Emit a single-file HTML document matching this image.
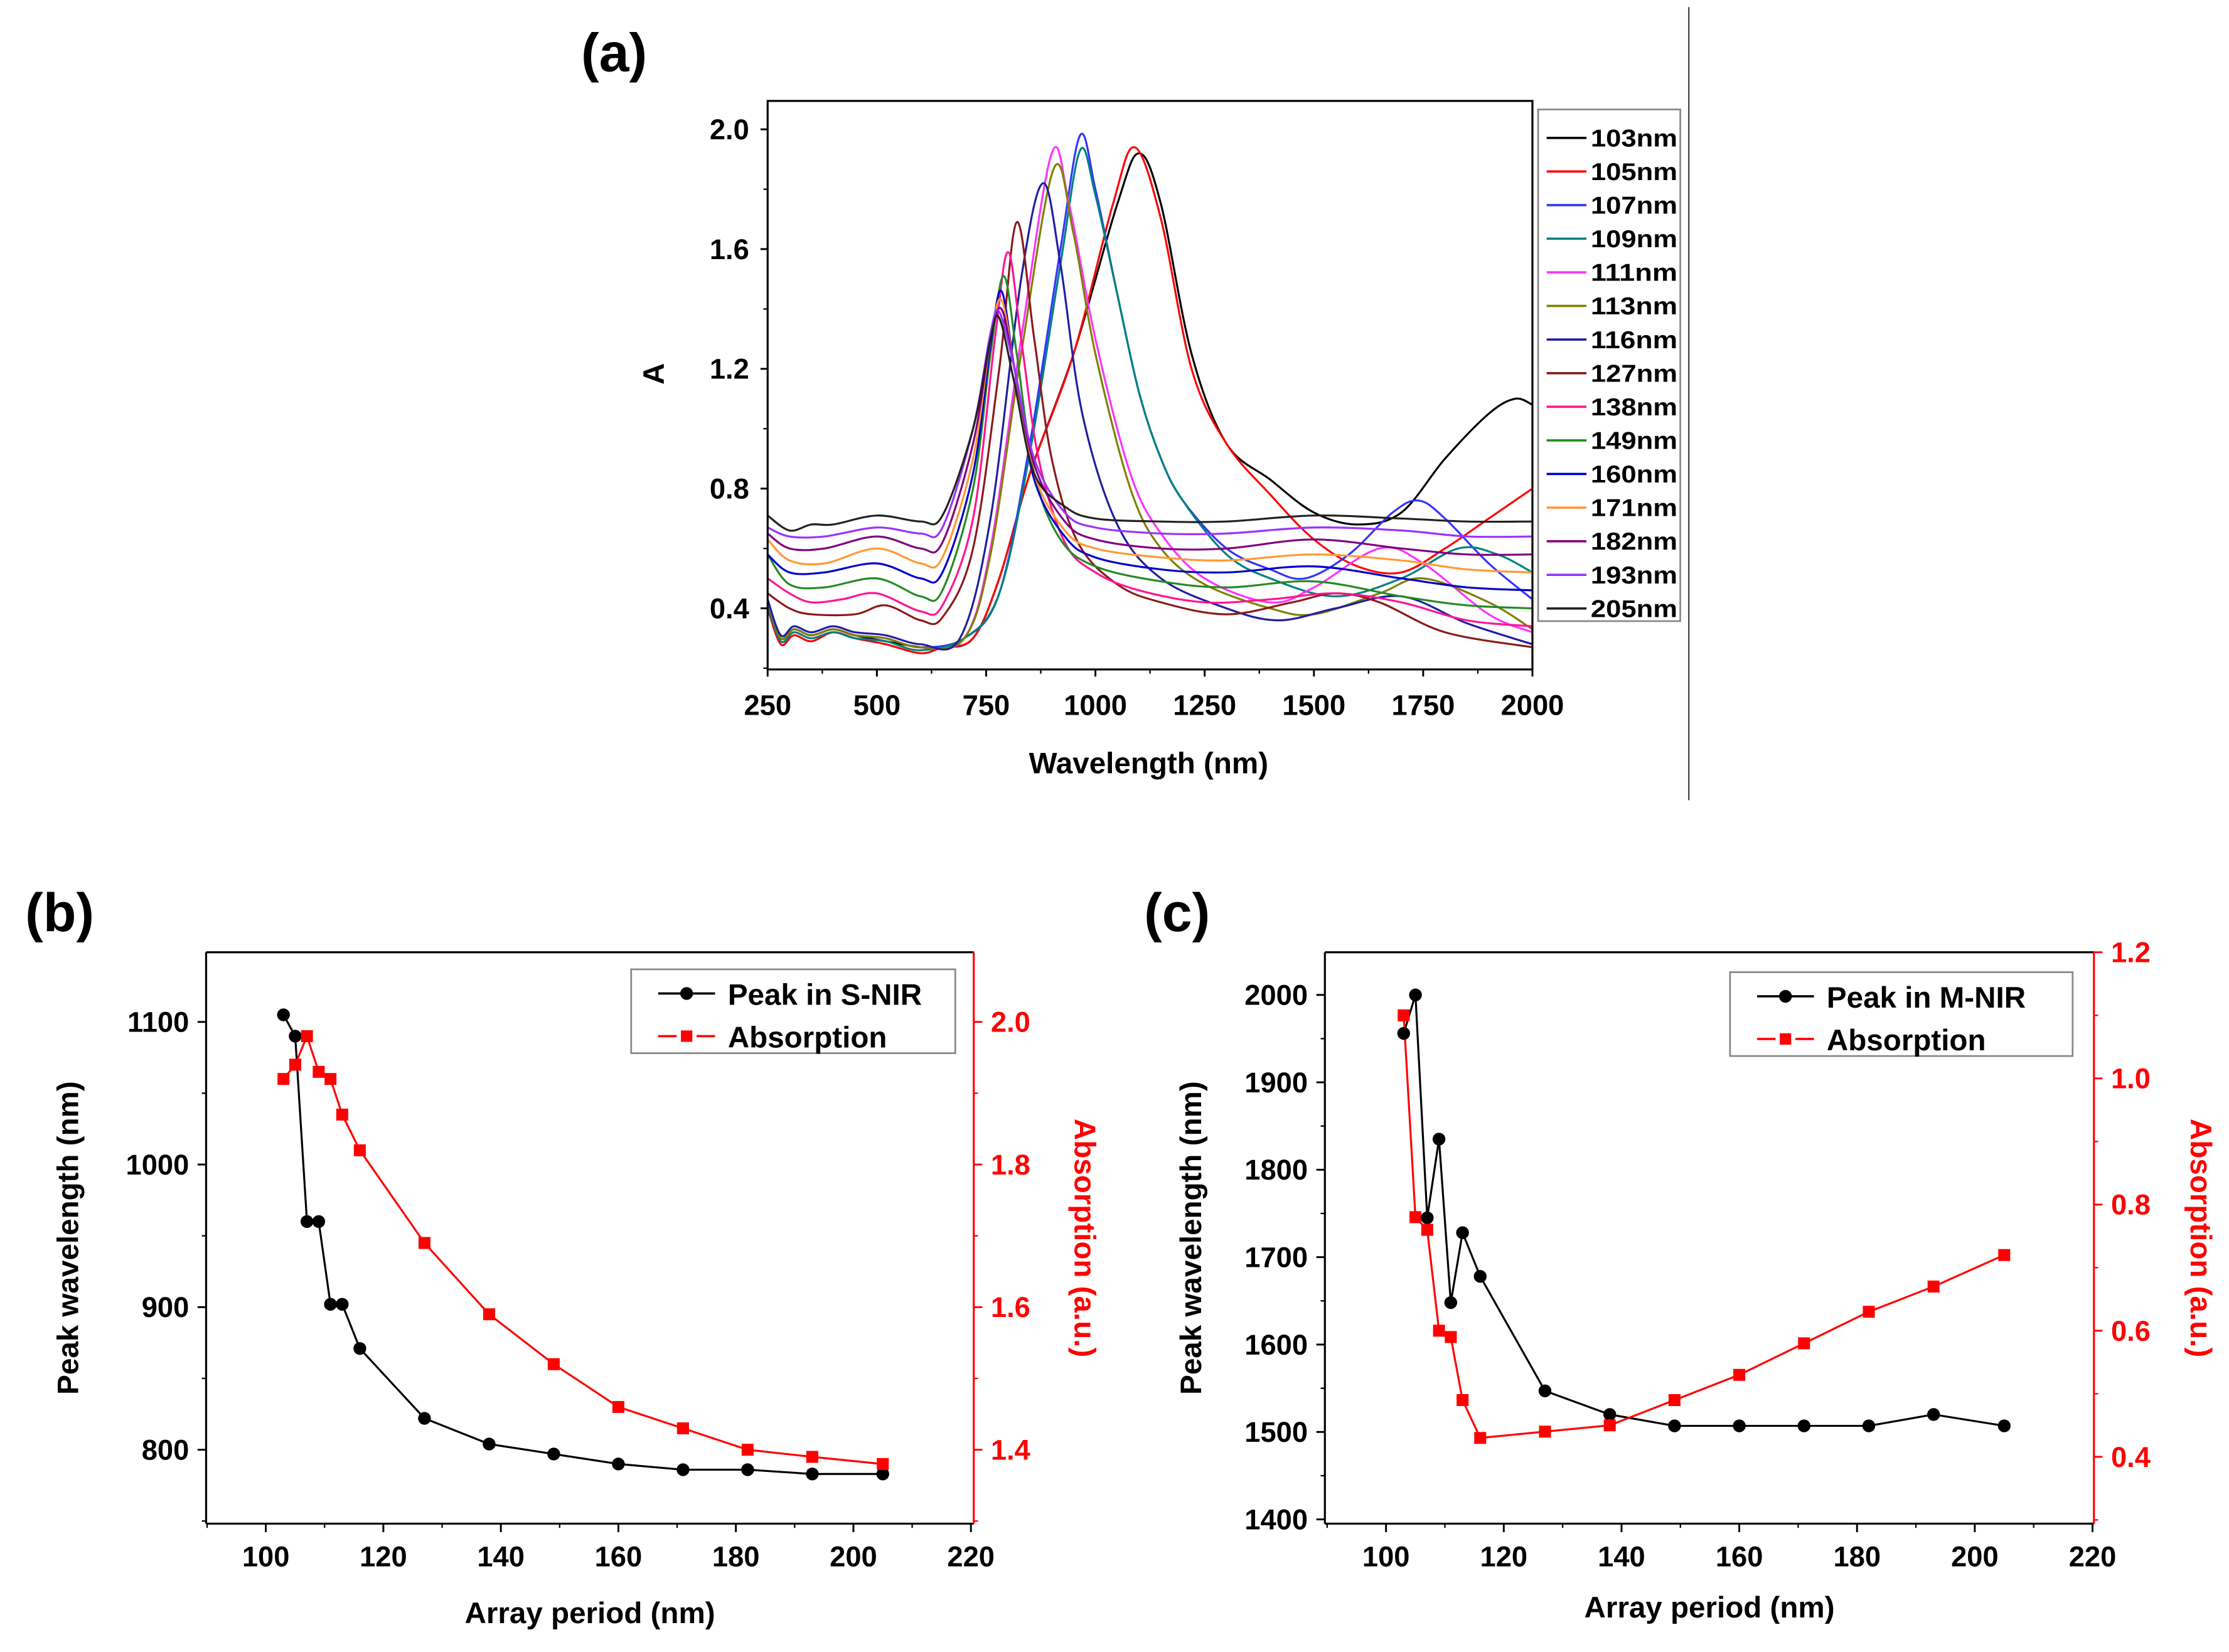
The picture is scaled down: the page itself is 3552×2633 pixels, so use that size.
<!DOCTYPE html>
<html><head><meta charset="utf-8"><style>
html,body{margin:0;padding:0;background:#fff}
svg{display:block}
text{font-family:"Liberation Sans",sans-serif;font-weight:bold}
</style></head><body>
<svg id="fig" width="3552" height="2633" viewBox="0 0 1568 1162.3" xmlns="http://www.w3.org/2000/svg">
<rect width="1568" height="1163" fill="#fff"/>
<line x1="1188" y1="5" x2="1188" y2="563" stroke="#444" stroke-width="1"/>
<g id="pa"></g>
<g id="pb"></g>
<g id="pc"></g>
</svg>
<script>
const NS="http://www.w3.org/2000/svg";
// ---------- Panel (a) data ----------
const specLabels=["103nm","105nm","107nm","109nm","111nm","113nm","116nm","127nm","138nm","149nm","160nm","171nm","182nm","193nm","205nm"];
const specColors=["#000000","#ff0000","#3333ff","#008080","#ff33ff","#808000","#1f1f9f","#8b1a1a","#ff1493","#228b22","#0000cd","#ff9933","#800080","#9933ff","#222222"];
const s103=[[250,0.42],[280,0.3],[310,0.33],[350,0.31],[400,0.33],[450,0.31],[520,0.29],[600,0.27],[650,0.27],[720,0.3],[780,0.5],[850,0.85],[950,1.25],[1050,1.75],[1100,1.92],[1150,1.75],[1220,1.25],[1300,0.95],[1400,0.83],[1500,0.72],[1600,0.68],[1700,0.72],[1800,0.9],[1900,1.05],[1960,1.1],[2000,1.08]];
const s105=[[250,0.4],[280,0.28],[310,0.31],[350,0.29],[400,0.32],[450,0.3],[520,0.28],[600,0.25],[650,0.27],[720,0.3],[780,0.5],[850,0.85],[950,1.25],[1040,1.75],[1090,1.94],[1150,1.7],[1220,1.2],[1300,0.95],[1400,0.78],[1500,0.63],[1600,0.54],[1700,0.52],[1800,0.6],[1900,0.7],[2000,0.8]];
const s107=[[250,0.4],[280,0.3],[310,0.33],[350,0.31],[400,0.33],[450,0.31],[520,0.3],[600,0.27],[700,0.3],[780,0.45],[850,0.95],[920,1.6],[965,1.98],[1000,1.8],[1050,1.45],[1100,1.12],[1150,0.9],[1200,0.76],[1300,0.6],[1400,0.53],[1480,0.5],[1580,0.58],[1680,0.72],[1740,0.76],[1800,0.7],[1900,0.55],[2000,0.43]];
const s109=[[250,0.41],[280,0.29],[310,0.32],[350,0.3],[400,0.32],[450,0.3],[520,0.29],[600,0.26],[700,0.3],[780,0.45],[850,0.92],[920,1.55],[965,1.93],[1000,1.78],[1050,1.45],[1100,1.12],[1150,0.9],[1200,0.76],[1300,0.58],[1400,0.5],[1550,0.44],[1700,0.5],[1830,0.6],[1920,0.58],[2000,0.52]];
const s111=[[250,0.42],[280,0.3],[310,0.33],[350,0.31],[400,0.33],[450,0.31],[520,0.3],[600,0.27],[700,0.3],[760,0.6],[830,1.3],[900,1.92],[940,1.75],[1000,1.3],[1080,0.85],[1150,0.65],[1250,0.5],[1400,0.42],[1500,0.47],[1650,0.6],[1750,0.55],[1900,0.38],[2000,0.32]];
const s113=[[250,0.42],[280,0.3],[310,0.33],[350,0.31],[400,0.33],[450,0.31],[520,0.3],[600,0.27],[700,0.3],[760,0.58],[830,1.25],[905,1.87],[950,1.65],[1000,1.25],[1080,0.8],[1150,0.6],[1250,0.48],[1400,0.4],[1500,0.38],[1650,0.45],[1750,0.5],[1900,0.42],[2000,0.33]];
const s116=[[250,0.43],[280,0.31],[310,0.34],[350,0.32],[400,0.34],[450,0.32],[520,0.31],[600,0.28],[690,0.3],[760,0.7],[830,1.5],[880,1.82],[920,1.55],[970,1.05],[1050,0.68],[1150,0.5],[1300,0.4],[1420,0.36],[1550,0.4],[1700,0.44],[1850,0.35],[2000,0.28]];
const s127=[[250,0.45],[300,0.4],[350,0.38],[450,0.38],[520,0.41],[600,0.36],[650,0.37],[720,0.6],[780,1.2],[820,1.69],[860,1.3],[900,0.9],[960,0.62],[1050,0.48],[1150,0.42],[1300,0.38],[1450,0.42],[1550,0.45],[1650,0.42],[1800,0.32],[2000,0.27]];
const s138=[[250,0.5],[300,0.45],[350,0.42],[420,0.43],[500,0.45],[600,0.39],[650,0.41],[720,0.7],[770,1.3],[800,1.59],[830,1.3],[870,0.9],[930,0.62],[1000,0.52],[1100,0.46],[1250,0.42],[1400,0.43],[1550,0.45],[1700,0.42],[1850,0.36],[2000,0.34]];
const s149=[[250,0.58],[300,0.48],[380,0.47],[500,0.5],[600,0.44],[650,0.46],[720,0.8],[760,1.25],[790,1.51],[820,1.25],[860,0.85],[920,0.63],[1000,0.54],[1150,0.49],[1300,0.47],[1500,0.49],[1700,0.44],[1850,0.41],[2000,0.4]];
const s160=[[250,0.58],[300,0.52],[380,0.52],[500,0.55],[600,0.5],[650,0.52],[720,0.85],[760,1.28],[785,1.46],[815,1.2],[860,0.83],[930,0.64],[1000,0.57],[1150,0.53],[1300,0.52],[1500,0.54],[1700,0.5],[1850,0.47],[2000,0.46]];
const s171=[[250,0.63],[300,0.56],[380,0.55],[500,0.6],[600,0.55],[650,0.57],[720,0.9],[760,1.3],[785,1.43],[815,1.2],[860,0.85],[930,0.66],[1000,0.6],[1150,0.57],[1300,0.56],[1500,0.58],[1700,0.56],[1850,0.53],[2000,0.52]];
const s182=[[250,0.65],[300,0.6],[380,0.6],[500,0.64],[600,0.6],[650,0.62],[720,0.95],[760,1.3],[785,1.4],[815,1.2],[860,0.88],[930,0.69],[1000,0.63],[1150,0.6],[1300,0.6],[1500,0.63],[1700,0.6],[1850,0.58],[2000,0.58]];
const s193=[[250,0.67],[300,0.64],[380,0.64],[500,0.67],[600,0.65],[650,0.67],[720,1.0],[760,1.32],[780,1.39],[815,1.2],[860,0.9],[930,0.72],[1000,0.67],[1150,0.65],[1300,0.65],[1500,0.67],[1700,0.66],[1850,0.64],[2000,0.64]];
const s205=[[250,0.71],[300,0.66],[350,0.68],[400,0.68],[500,0.71],[600,0.69],[650,0.71],[720,1.0],[760,1.3],[780,1.37],[815,1.15],[860,0.85],[930,0.74],[1000,0.7],[1150,0.69],[1300,0.69],[1500,0.71],[1700,0.7],[1850,0.69],[2000,0.69]];
const spectra=[s103,s105,s107,s109,s111,s113,s116,s127,s138,s149,s160,s171,s182,s193,s205];
const aXTicks=[250,500,750,1000,1250,1500,1750,2000];
const aYTicks=[0.4,0.8,1.2,1.6,2.0];
// ---------- Panel (b)/(c) data ----------
const periods=[103,105,107,109,111,113,116,127,138,149,160,171,182,193,205];
const peakS=[1105,1090,960,960,902,902,871,822,804,797,790,786,786,783,783];
const absS=[1.92,1.94,1.98,1.93,1.92,1.87,1.82,1.69,1.59,1.52,1.46,1.43,1.40,1.39,1.38];
const peakM=[1956,2000,1745,1835,1648,1728,1678,1547,1520,1507,1507,1507,1507,1520,1507];
const absM=[1.10,0.78,0.76,0.60,0.59,0.49,0.43,0.44,0.45,0.49,0.53,0.58,0.63,0.67,0.72];
const periodTicks=[100,120,140,160,180,200,220];
const bLeftTicks=[800,900,1000,1100];
const bRightTicks=[1.4,1.6,1.8,2.0];
const cLeftTicks=[1400,1500,1600,1700,1800,1900,2000];
const cRightTicks=[0.4,0.6,0.8,1.0,1.2];

function el(tag,attrs,parent,txt){const e=document.createElementNS(NS,tag);for(const k in attrs)e.setAttribute(k,attrs[k]);if(txt!==undefined)e.textContent=txt;parent.appendChild(e);return e;}
function smoothPath(pts){let d="M"+pts[0][0].toFixed(2)+","+pts[0][1].toFixed(2);
 for(let i=0;i<pts.length-1;i++){const p0=pts[Math.max(0,i-1)],p1=pts[i],p2=pts[i+1],p3=pts[Math.min(pts.length-1,i+2)];
  const c1=[p1[0]+(p2[0]-p0[0])/6,p1[1]+(p2[1]-p0[1])/6],c2=[p2[0]-(p3[0]-p1[0])/6,p2[1]-(p3[1]-p1[1])/6];
  d+=" C"+c1[0].toFixed(2)+","+c1[1].toFixed(2)+" "+c2[0].toFixed(2)+","+c2[1].toFixed(2)+" "+p2[0].toFixed(2)+","+p2[1].toFixed(2);}
 return d;}

// ---------- Panel (a) ----------
(function(){
 const g=document.getElementById('pa');
 const L=540,R=1078,T=71,B=471;
 const xs=v=>L+(v-250)/(2000-250)*(R-L);
 const ys=v=>428-(v-0.4)/1.6*(428-91);
 const clip=el('clipPath',{id:'clipA'},g);el('rect',{x:L,y:T,width:R-L,height:B-T},clip);
 const lines=el('g',{'clip-path':'url(#clipA)'},g);
 spectra.forEach((s,i)=>{
  const p=el('path',{d:smoothPath(s.map(q=>[xs(q[0]),ys(q[1])])),fill:'none',stroke:specColors[i],'stroke-width':1.4},lines);
  
  
 });
 el('rect',{x:L,y:T,width:R-L,height:B-T,fill:'none',stroke:'#000','stroke-width':1.4,},g);
 aXTicks.forEach(v=>{el('line',{x1:xs(v),y1:B,x2:xs(v),y2:B+5,stroke:'#000','stroke-width':1.3},g);
  const t=el('text',{x:xs(v),y:B+32,'font-size':20,'text-anchor':'middle'},g,String(v));
  });
 for(let v=375;v<2000;v+=250)el('line',{x1:xs(v),y1:B,x2:xs(v),y2:B+3,stroke:'#000','stroke-width':1},g);
 aYTicks.forEach(v=>{el('line',{x1:L-5,y1:ys(v),x2:L,y2:ys(v),stroke:'#000','stroke-width':1.3},g);
  const t=el('text',{x:L-13,y:ys(v)+7,'font-size':20,'text-anchor':'end'},g,v.toFixed(1));
  });
 [0.2,0.6,1.0,1.4,1.8].forEach(v=>el('line',{x1:L-3,y1:ys(v),x2:L,y2:ys(v),stroke:'#000','stroke-width':1},g));
 el('text',{x:808,y:544,'font-size':21,'text-anchor':'middle',},g,'Wavelength (nm)');
 el('text',{x:467,y:263,'font-size':21,'text-anchor':'middle',transform:'rotate(-90 467 263)',},g,'A');
 el('text',{x:432,y:50,'font-size':38,'text-anchor':'middle',},g,'(a)');
 const lg=el('g',{},g);
 el('rect',{x:1082,y:77,width:100,height:360,fill:'#fff',stroke:'#888','stroke-width':1.2},lg);
 specLabels.forEach((lab,i)=>{const y=97+i*23.65;
  el('line',{x1:1088,y1:y,x2:1116,y2:y,stroke:specColors[i],'stroke-width':1.6},lg);
  const t=el('text',{x:1119,y:y+6,'font-size':17,textLength:61,lengthAdjust:'spacingAndGlyphs'},lg,lab);
  });
})();

// ---------- Panels (b),(c) ----------
function dual(gid,cfg){
 const g=document.getElementById(gid);
 const {L,R,T,B}=cfg;
 const xs=v=>cfg.x0px+(v-100)/120*(cfg.x1px-cfg.x0px);
 const yl=v=>cfg.ylA[1]+(v-cfg.ylA[0])/(cfg.ylB[0]-cfg.ylA[0])*(cfg.ylB[1]-cfg.ylA[1]);
 const yr=v=>cfg.yrA[1]+(v-cfg.yrA[0])/(cfg.yrB[0]-cfg.yrA[0])*(cfg.yrB[1]-cfg.yrA[1]);
 el('line',{x1:L,y1:T,x2:R,y2:T,stroke:'#000','stroke-width':1.4},g);
 el('line',{x1:L,y1:B,x2:R,y2:B,stroke:'#000','stroke-width':1.4},g);
 el('line',{x1:L,y1:T,x2:L,y2:B,stroke:'#000','stroke-width':1.4,},g);
 el('line',{x1:R,y1:T,x2:R,y2:B,stroke:'#f00','stroke-width':1.4,},g);
 periodTicks.forEach(v=>{el('line',{x1:xs(v),y1:B,x2:xs(v),y2:B+6,stroke:'#000','stroke-width':1.3},g);
  const t=el('text',{x:xs(v),y:B+30,'font-size':20,'text-anchor':'middle'},g,String(v));
  });
 for(let v=90;v<=210;v+=20)el('line',{x1:xs(v),y1:B,x2:xs(v),y2:B+3,stroke:'#000','stroke-width':1},g);
 cfg.leftTicks.forEach(v=>{el('line',{x1:L-6,y1:yl(v),x2:L,y2:yl(v),stroke:'#000','stroke-width':1.3},g);
  const t=el('text',{x:L-12,y:yl(v)+7,'font-size':20,'text-anchor':'end'},g,String(v));
  });
 cfg.leftMinor.forEach(v=>el('line',{x1:L-3,y1:yl(v),x2:L,y2:yl(v),stroke:'#000','stroke-width':1},g));
 cfg.rightTicks.forEach(v=>{el('line',{x1:R,y1:yr(v),x2:R+6,y2:yr(v),stroke:'#f00','stroke-width':1.3},g);
  const t=el('text',{x:R+12,y:yr(v)+7,'font-size':20,fill:'#f00'},g,v.toFixed(1));
  });
 cfg.rightMinor.forEach(v=>el('line',{x1:R,y1:yr(v),x2:R+3,y2:yr(v),stroke:'#f00','stroke-width':1},g));
 const pk=el('polyline',{points:periods.map((p,i)=>xs(p)+','+yl(cfg.peak[i])).join(' '),fill:'none',stroke:'#000','stroke-width':1.4},g);
 
 const ab=el('polyline',{points:periods.map((p,i)=>xs(p)+','+yr(cfg.abs[i])).join(' '),fill:'none',stroke:'#f00','stroke-width':1.4},g);
 
 periods.forEach((p,i)=>{
  const c=el('circle',{cx:xs(p),cy:yl(cfg.peak[i]),r:4.5,fill:'#000'},g);
  
  const s=el('rect',{x:xs(p)-4.2,y:yr(cfg.abs[i])-4.2,width:8.4,height:8.4,fill:'#f00'},g);
  
 });
 const lg=el('g',{},g);
 const [lx,ly,lw,lh]=cfg.leg;
 el('rect',{x:lx,y:ly,width:lw,height:lh,fill:'#fff',stroke:'#888','stroke-width':1.2},lg);
 el('line',{x1:lx+19,y1:ly+17,x2:lx+59,y2:ly+17,stroke:'#000','stroke-width':1.6},lg);
 el('circle',{cx:lx+39,cy:ly+17,r:4.5,fill:'#000'},lg);
 el('text',{x:lx+68,y:ly+25,'font-size':21},lg,cfg.peakName);
 el('line',{x1:lx+19,y1:ly+47,x2:lx+32,y2:ly+47,stroke:'#f00','stroke-width':1.6},lg);
 el('line',{x1:lx+46,y1:ly+47,x2:lx+59,y2:ly+47,stroke:'#f00','stroke-width':1.6},lg);
 el('rect',{x:lx+35,y:ly+43,width:8,height:8,fill:'#f00'},lg);
 el('text',{x:lx+68,y:ly+55,'font-size':21},lg,'Absorption');
 el('text',{x:(L+R)/2,y:cfg.xtY,'font-size':21,'text-anchor':'middle',},g,'Array period (nm)');
 el('text',{x:cfg.ylX,y:(T+B)/2,'font-size':21,'text-anchor':'middle',transform:`rotate(-90 ${cfg.ylX} ${(T+B)/2})`,},g,'Peak wavelength (nm)');
 el('text',{x:cfg.yrX,y:(T+B)/2,'font-size':21,fill:'#f00','text-anchor':'middle',transform:`rotate(90 ${cfg.yrX} ${(T+B)/2})`,},g,'Absorption (a.u.)');
 el('text',{x:cfg.lab[0],y:cfg.lab[1],'font-size':38,'text-anchor':'middle',},g,cfg.labText);
}
dual('pb',{L:145,R:685,T:670,B:1072,x0px:187,x1px:683,ylA:[800,1020],ylB:[1100,719],yrA:[1.4,1020],yrB:[2.0,719],
 leftTicks:bLeftTicks,leftMinor:[750,850,950,1050],rightTicks:bRightTicks,rightMinor:[1.3,1.5,1.7,1.9],
 peak:peakS,abs:absS,peakName:'Peak in S-NIR',leg:[444,682,228,59],xtY:1142,ylX:55,yrX:756,lab:[42,655],labText:'(b)'});
dual('pc',{L:932,R:1473,T:670,B:1072,x0px:975,x1px:1472,ylA:[1400,1069],ylB:[2000,700],yrA:[0.4,1025],yrB:[1.2,670],
 leftTicks:cLeftTicks,leftMinor:[1450,1550,1650,1750,1850,1950],rightTicks:cRightTicks,rightMinor:[0.3,0.5,0.7,0.9,1.1],
 peak:peakM,abs:absM,peakName:'Peak in M-NIR',leg:[1217,684,241,59],xtY:1138,ylX:845,yrX:1541,lab:[828,655],labText:'(c)'});
</script>
</body></html>
